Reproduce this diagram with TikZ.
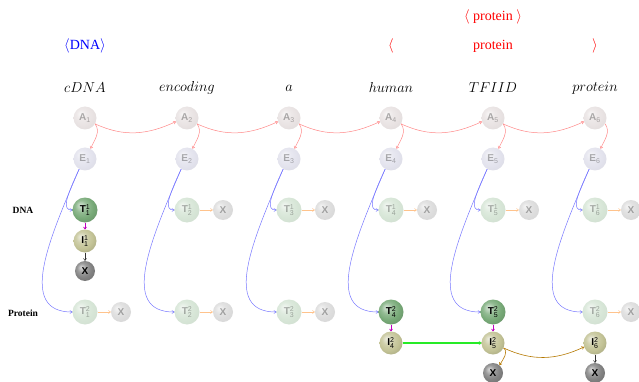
\documentclass[tikz,border=0pt]{standalone}
\usepackage{fontspec}
\setmainfont{Liberation Serif}
\setsansfont{Liberation Sans}
\usetikzlibrary{arrows.meta,shadings}

% ball colours
\definecolor{acol}{RGB}{180,160,160}
\definecolor{ecol}{RGB}{160,160,195}
\definecolor{tcol}{RGB}{120,170,120}
\definecolor{icol}{RGB}{195,195,150}
\definecolor{xcol}{RGB}{130,130,130}
\definecolor{fxcol}{RGB}{140,140,140}
% connector colours
\definecolor{arcred}{RGB}{255,135,135}
\definecolor{arcblue}{RGB}{120,120,255}
\definecolor{arcorange}{RGB}{255,195,140}
\definecolor{arcpurple}{rgb}{0.75,0,0.75}
\definecolor{arcgreen}{rgb}{0.15,0.92,0.15}
\definecolor{arcbrown}{RGB}{180,120,0}

% soft ball shading driven by the colour "ballc"
\colorlet{ballc}{gray}
\pgfdeclareradialshading[ballc]{softball}{\pgfqpoint{-10bp}{10bp}}{%
  color(0bp)=(ballc!30!white); color(12bp)=(ballc!80!white);
  color(22bp)=(ballc); color(35bp)=(ballc!85!black);
  color(50bp)=(ballc!60!black)}

\begin{document}
\begin{tikzpicture}[x=1pt,y=1pt,
  soft ball/.code={\colorlet{ballc}{#1}\tikzset{shading=softball}},
  ball/.style={circle, inner sep=0pt,
    font=\sffamily\bfseries\fontsize{10}{10}\selectfont},
  anode/.style={ball, minimum size=23pt, soft ball=acol},
  enode/.style={ball, minimum size=23pt, soft ball=ecol},
  tnode/.style={ball, minimum size=25pt, soft ball=tcol},
  inode/.style={ball, minimum size=23pt, soft ball=icol},
  xnode/.style={ball, minimum size=20pt, soft ball=xcol},
  fxnode/.style={ball, minimum size=20pt, soft ball=fxcol},
  faded/.style={opacity=0.3},
  wordlbl/.style={font=\fontsize{15}{18}\selectfont},
  toplbl/.style={text=red, font=\fontsize{14}{16}\selectfont},
  rowlbl/.style={font=\bfseries\fontsize{9.5}{11}\selectfont},
  conn/.style={line width=0.5pt, -{To[length=2.6pt,width=3.4pt]}},
  redconn/.style={conn, color=arcred},
  blueconn/.style={conn, color=arcblue},
  orangeconn/.style={conn, color=arcorange},
  purpleconn/.style={conn, draw=arcpurple, line width=0.8pt},
  blackconn/.style={conn, draw=black!80},
  greenconn/.style={conn, draw=arcgreen, line width=1.1pt},
  brownconn/.style={conn, draw=arcbrown, line width=0.6pt}
]
\useasboundingbox (0,0) rectangle (639,-382);

% bracket annotations
\node[text=blue, font=\fontsize{14}{16}\selectfont] (dnaspan) at (85,-46) {$\langle$DNA$\rangle$};
\node[toplbl] (protouter) at (493,-17) {$\langle$ protein $\rangle$};
\node[toplbl] (protopen) at (391,-46) {$\langle$};
\node[toplbl] (protmid) at (493,-46) {protein};
\node[toplbl] (protclose) at (595,-46) {$\rangle$};

% words
\node[wordlbl] (w1) at (85,-88)  {$cDNA$};
\node[wordlbl] (w2) at (187,-88) {$encoding$};
\node[wordlbl] (w3) at (289,-88) {$a$};
\node[wordlbl] (w4) at (391,-88) {$human$};
\node[wordlbl] (w5) at (493,-88) {$TFIID$};
\node[wordlbl] (w6) at (595,-88) {$protein$};

% row labels
\node[rowlbl] (rowdna) at (23,-210) {DNA};
\node[rowlbl] (rowprot) at (23,-313) {Protein};

% per-word columns
\foreach \i in {1,...,6} {
  \pgfmathsetmacro{\cx}{85+102*(\i-1)}
  \node[anode, faded] (A\i) at (\cx,-118) {A$_{\mathsf{\i}}$};
  \node[enode, faded] (E\i) at (\cx,-159) {E$_{\mathsf{\i}}$};
}

% DNA row
\node[tnode] (T1) at (85,-210) {T$^{\mathsf{1}}_{\mathsf{1}}$};
\node[inode] (I1) at (85,-241) {I$^{\mathsf{1}}_{\mathsf{1}}$};
\node[xnode] (IX1) at (85,-271) {X};
\foreach \i in {2,...,6} {
  \pgfmathsetmacro{\cx}{85+102*(\i-1)}
  \node[tnode, faded] (T\i) at (\cx,-210) {T$^{\mathsf{1}}_{\mathsf{\i}}$};
  \node[fxnode, faded] (TX\i) at (\cx+36,-210) {X};
}

% Protein row
\foreach \i in {1,2,3,6} {
  \pgfmathsetmacro{\cx}{85+102*(\i-1)}
  \node[tnode, faded] (U\i) at (\cx,-312) {T$^{\mathsf{2}}_{\mathsf{\i}}$};
  \node[fxnode, faded] (UX\i) at (\cx+36,-312) {X};
}
\node[tnode] (U4) at (391,-312) {T$^{\mathsf{2}}_{\mathsf{4}}$};
\node[tnode] (U5) at (493,-312) {T$^{\mathsf{2}}_{\mathsf{5}}$};
\node[inode] (J4) at (391,-343) {I$^{\mathsf{2}}_{\mathsf{4}}$};
\node[inode] (J5) at (493,-343) {I$^{\mathsf{2}}_{\mathsf{5}}$};
\node[inode] (J6) at (595,-343) {I$^{\mathsf{2}}_{\mathsf{6}}$};
\node[xnode] (JX5) at (493,-373) {X};
\node[xnode] (JX6) at (595,-373) {X};

% A chain and A -> E
\foreach \i/\j in {1/2,2/3,3/4,4/5,5/6} {
  \draw[redconn] (A\i.-30) to[out=-25, in=205] (A\j.198);
}
\foreach \i in {1,...,6} {
  \draw[redconn] (A\i.-30) to[out=-55, in=65] (E\i.62);
  \draw[blueconn] (E\i.240) .. controls +(-14,-30) and +(-10,0) .. (T\i.west);
  \draw[blueconn] (E\i.240) .. controls +(-30,-70) and +(-55,0) .. (U\i.west);
}

% DNA row transitions
\draw[purpleconn] (T1) -- (I1);
\draw[blackconn] (I1) -- (IX1);
\foreach \i in {2,...,6} {
  \draw[orangeconn] (T\i) -- (TX\i);
}

% Protein row transitions
\foreach \i in {1,2,3,6} {
  \draw[orangeconn] (U\i) -- (UX\i);
}
\draw[purpleconn] (U4) -- (J4);
\draw[purpleconn] (U5) -- (J5);
\draw[greenconn] (J4) -- (J5);
\draw[brownconn] (J5.-25) to[out=-40, in=60] (JX5.50);
\draw[brownconn] (J5.-25) to[out=-25, in=205] (J6.200);
\draw[blackconn] (J6) -- (JX6);
\end{tikzpicture}
\end{document}
